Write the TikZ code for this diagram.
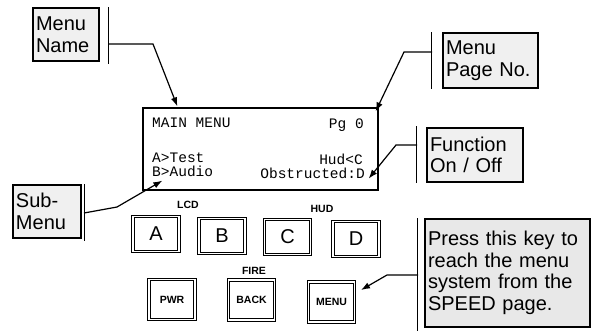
\documentclass[tikz,border=0pt]{standalone}
\usepackage{fontspec}
\setmainfont{Liberation Sans}
\newfontfamily\lcdfont{Liberation Mono}
\usetikzlibrary{arrows.meta, positioning}

\begin{document}
\begin{tikzpicture}[x=1pt, y=-1pt,
    callout/.style={rectangle, draw=black, line width=1.2pt, fill=gray!12, align=left,
                    inner xsep=3pt, inner ysep=2pt, font=\fontsize{20}{21.5}\selectfont},
    screen/.style={rectangle, draw=black, line width=1.3pt, minimum width=235pt, minimum height=82pt},
    lcdtext/.style={inner sep=0pt, font=\lcdfont\fontsize{14.5}{16}\selectfont},
    key/.style={rectangle, draw=black, line width=1pt, double=white, double distance=1.8pt,
                minimum width=46pt, minimum height=35pt, font=\fontsize{20}{22}\selectfont},
    smallkey/.style={key, minimum height=40pt, font=\bfseries\fontsize{10.5}{12}\selectfont},
    keylabel/.style={font=\bfseries\fontsize{10.5}{12}\selectfont},
    bar/.style={line width=1.2pt},
    arrow/.style={-{Latex[length=9pt, width=6.5pt]}, line width=1.2pt}]

    \useasboundingbox (0,0) rectangle (594,333);

    % Display screen
    \node[screen] (screen) at (260.5,149) {};
    \node[lcdtext, anchor=base west] (title) at (152,127) {MAIN MENU};
    \node[lcdtext, anchor=base east] (page) at (364,128) {Pg 0};
    \node[lcdtext, anchor=base west] (test) at (152,162) {A>Test};
    \node[lcdtext, anchor=base west] (audio) at (152,176) {B>Audio};
    \node[lcdtext, anchor=base east] (hud) at (363,164) {Hud<C};
    \node[lcdtext, anchor=base east] (obstr) at (365,178) {Obstructed:D};

    % Keys
    \node[key] (keya) at (156,234) {A};
    \node[key] (keyb) at (222,236) {B};
    \node[key] (keyc) at (287.5,237) {C};
    \node[key] (keyd) at (356,239) {D};
    \node[keylabel] (lcd) at (188,205) {LCD};
    \node[keylabel] (hudlabel) at (322,209) {HUD};

    \node[smallkey] (pwr) at (172,299.5) {PWR};
    \node[smallkey] (back) at (251.5,300) {BACK};
    \node[smallkey] (menu) at (331.5,302) {MENU};
    \node[keylabel] (fire) at (254,271) {FIRE};

    % Callouts
    \node[callout, text width=60pt, minimum height=53pt] (name) at (66,34.5) {Menu\\Name};
    \node[callout, text width=89pt, minimum height=55pt] (pageno) at (490.5,60.5) {Menu\\Page No.};
    \node[callout, text width=90pt, minimum height=54pt] (func) at (475,155) {Function\\On / Off};
    \node[callout, text width=62pt, minimum height=53pt] (sub) at (47,211.5) {Sub-\\Menu};
    \node[callout, text width=159pt, minimum height=108pt, fill=gray!18] (press) at (507.5,273)
        {Press this key to\\reach the menu\\system from the\\SPEED page.};

    % Bars beside the callouts
    \draw[bar] ([xshift=9pt]name.north east) -- ([xshift=9pt,yshift=-2pt]name.south east);
    \draw[bar] ([xshift=-11pt]pageno.north west) -- ([xshift=-11pt]pageno.south west);
    \draw[bar] ([xshift=-10pt,yshift=1pt]func.north west) -- ([xshift=-10pt]func.south west);
    \draw[bar] ([xshift=3pt]sub.north east) -- ([xshift=3pt,yshift=-2pt]sub.south east);
    \draw[bar] ([xshift=-7pt]press.north west) -- ([xshift=-7pt,yshift=-3pt]press.south west);

    \coordinate (namept) at (108,44);
    \coordinate (pagept) at (432,52);
    \coordinate (funcpt) at (417,145);
    \coordinate (subpt) at (84,213);
    \coordinate (presspt) at (418,275);

    % Connections
    \draw[arrow] (namept) -- (153,44) -- ([xshift=35pt,yshift=1pt]screen.north west);
    \draw[arrow] (pagept) -- (404,52) -- ([xshift=-3pt,yshift=-4pt]screen.north east);
    \draw[arrow] (funcpt) -- (396,145) -- ([xshift=-10pt,yshift=12pt]screen.south east);
    \draw[arrow] (subpt) -- (117,207) -- ([xshift=20pt,yshift=10pt]screen.south west);
    \draw[arrow] (presspt) -- (387,275) -- ([xshift=6pt,yshift=12pt]menu.east);

\end{tikzpicture}
\end{document}
